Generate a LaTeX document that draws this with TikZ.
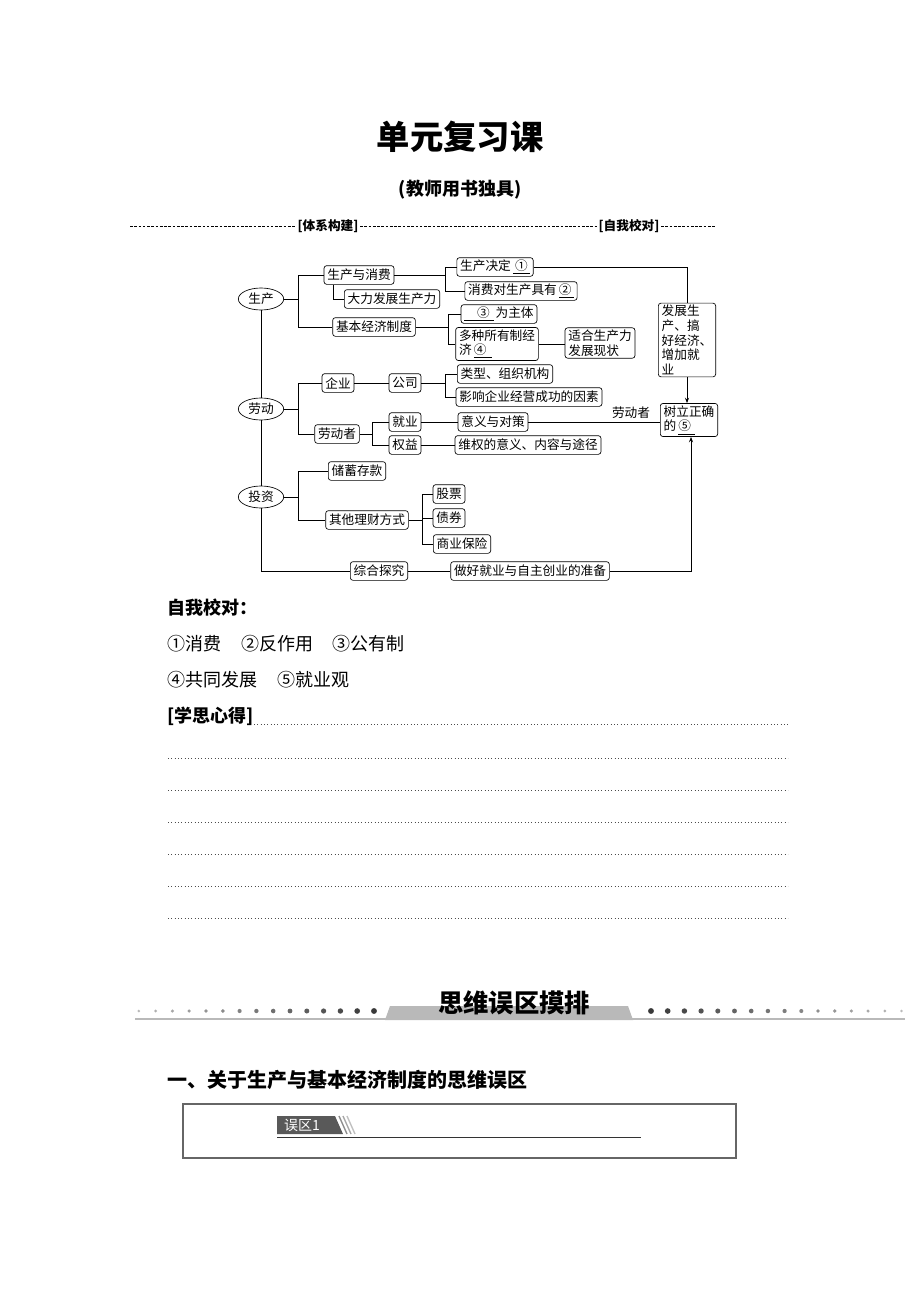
\documentclass[tikz,border=0pt]{standalone}
\usepackage{fontspec}
\setmainfont{Noto Sans CJK SC}
\usetikzlibrary{shapes.geometric,arrows.meta}

\tikzstyle{box}=[draw,rounded corners=2pt,inner xsep=2.5pt,inner ysep=1.5pt,minimum height=14pt,font=\fontsize{9.5}{11}\selectfont]
\tikzstyle{oval}=[draw,ellipse,minimum width=34pt,minimum height=16.5pt,inner sep=0pt,font=\fontsize{9.5}{11}\selectfont]
\tikzstyle{ruled}=[dotted,line width=0.5pt,black!70]
\tikzstyle{plain}=[anchor=west,inner sep=0pt,font=\fontsize{13.5}{14}\selectfont]

\begin{document}
\begin{tikzpicture}[x=0.75pt,y=-0.75pt,>={Stealth[length=4pt,width=3pt]},line width=0.5pt]
\useasboundingbox[fill=white] (0,0) rectangle (920,1302);

% HEADER

\node[font=\fontsize{25}{25}\selectfont\bfseries] (title) at (460,137) {单元复习课};
\node[font=\fontsize{13.5}{14}\selectfont\bfseries] (sub) at (460,190) {(教师用书独具)};
\node[font=\fontsize{9.5}{10}\selectfont\bfseries,inner sep=1pt] (tixi) at (328,226) {[体系构建]};
\node[font=\fontsize{9.5}{10}\selectfont\bfseries,inner sep=1pt] (zwjd) at (629,226) {[自我校对]};
\coordinate (dl0) at (130,226);
\coordinate (dl1) at (715,226);
\draw[dash pattern=on 2pt off 1.2pt,line width=0.4pt] (dl0) -- (tixi.west);
\draw[dash pattern=on 2pt off 1.2pt,line width=0.4pt] (tixi.east) -- (zwjd.west);
\draw[dash pattern=on 2pt off 1.2pt,line width=0.4pt] (zwjd.east) -- (dl1);

% SHENGCHAN

\node[oval] (sc) at (261,299) {生产};
\node[box] (scxf) at (359,275) {生产与消费};
\node[box] (dl) at (392,299) {大力发展生产力};
\node[box] (jbzd) at (374,327) {基本经济制度};
\node[box] (jd) at (495,267) {生产决定\,\underline{\,①\,}};
\node[box] (xf) at (521,291) {消费对生产具有\,\underline{②\,}};
\node[box] (wzt) at (499,314) {\underline{\hspace{1em}③\hspace{0.3em}}\,为主体};
\node[box,align=left] (dz) at (497,344) {多种所有制经\\济\,\underline{④\hspace{0.4em}}};
\node[box,align=left] (sh) at (600,343) {适合生产力\\发展现状};
\node[box,align=left] (fz) at (687,340) {发展生\\产、搞\\好经济、\\增加就\\业};

% LAODONG

\node[oval] (ld) at (261,409) {劳动};
\node[box] (qy) at (338,383) {企业};
\node[box] (gs) at (405,383) {公司};
\node[box] (lx) at (505,374) {类型、组织机构};
\node[box] (yx) at (529,397) {影响企业经营成功的因素};
\node[box] (ldz) at (337,434) {劳动者};
\node[box] (jy) at (405,422) {就业};
\node[box] (qyi) at (405,445) {权益};
\node[box] (yy) at (493,422) {意义与对策};
\node[box] (wq) at (528,445) {维权的意义、内容与途径};
\node[box,align=left] (sl) at (689,420) {树立正确\\的\,\underline{⑤\hspace{0.3em}}};

% TOUZI

\node[oval] (tz) at (261,497) {投资};
\node[box] (cx) at (357,471) {储蓄存款};
\node[box] (qtlc) at (367,520) {其他理财方式};
\node[box] (gp) at (449,494) {股票};
\node[box] (zq) at (449,518) {债券};
\node[box] (syb) at (462,544) {商业保险};
\node[box] (zh) at (379,571) {综合探究};
\node[box] (zb) at (530,571) {做好就业与自主创业的准备};

% CONNECTORS

\coordinate (c1) at (298,0);
\coordinate (c2) at (445,0);
\coordinate (c3) at (448,0);
\coordinate (c4) at (372,0);
\coordinate (c5) at (422,0);
\coordinate (c6) at (333,0);

\draw (sc.east) -- (sc -| c1) |- (scxf.west);
\draw (sc -| c1) |- (jbzd.west);
\draw (scxf.south -| c6) |- (dl.west);
\draw (scxf.east) -- (scxf -| c2) |- (jd.west);
\draw (scxf -| c2) |- (xf.west);
\draw (jbzd.east) -- (jbzd -| c3) |- (wzt.west);
\draw (jbzd -| c3) |- (dz.west);
\draw (dz.east) -- (dz.east -| sh.west);
\draw (jd.east) -| (fz.north);
\draw[->] (fz.south) -- (fz.south |- sl.north);

\draw (sc.south) -- (ld.north);
\draw (ld.south) -- (tz.north);
\draw (tz.south) |- (zh.west);

\draw (ld.east) -- (ld -| c1) |- (qy.west);
\draw (ld -| c1) |- (ldz.west);
\draw (qy) -- (gs);
\draw (gs.east) -- (gs -| c2) |- (lx.west);
\draw (gs -| c2) |- (yx.west);
\draw (ldz.east) -- (ldz -| c4) |- (jy.west);
\draw (ldz -| c4) |- (qyi.west);
\draw (jy) -- (yy);
\draw (qyi) -- (wq);
\draw (yy.east) -- (yy.east -| sl.west) node[pos=0.78,above=-1pt,font=\fontsize{9.5}{11}\selectfont] (ldzlab) {劳动者};

\draw (tz.east) -- (tz -| c1) |- (cx.west);
\draw (tz -| c1) |- (qtlc.west);
\draw (qtlc.east) -- (qtlc -| c5) |- (gp.west);
\draw (qtlc -| c5) |- (zq.west);
\draw (qtlc -| c5) |- (syb.west);
\draw (zh) -- (zb);
\draw[->] (zb.east) -| ([xshift=1.5pt]sl.south);

% ANSWERS

\node[plain,font=\fontsize{13.5}{14}\selectfont\bfseries] (zwjd2) at (167,608) {自我校对：};
\node[plain] (ans1) at (167,644) {①消费\hspace{1.1em}②反作用\hspace{1.1em}③公有制};
\node[plain] (ans2) at (167,680) {④共同发展\hspace{1.1em}⑤就业观};
\node[plain,font=\fontsize{13.5}{14}\selectfont\bfseries] (xsxd) at (167,716) {[学思心得]};
\coordinate (r0) at (788,724);
\draw[ruled] (xsxd.east |- r0) -- (r0);
\foreach \y in {758,790,822,854,886,918}
  \draw[ruled] (168,\y) -- (788,\y);

% BANNER

\draw[gray!55,line width=1.5pt] (135,1019) -- (905,1019);
\fill[gray!55] (385,1020) -- (390,1006) -- (628,1006) -- (633,1020) -- cycle;
\node[font=\fontsize{19}{19}\selectfont\bfseries] (swwq) at (514,1003) {思维误区摸排};
\foreach \i in {0,...,14}{
  \pgfmathsetmacro\shade{78-3.6*\i}
  \pgfmathsetmacro\rad{2.2-0.08*\i}
  \fill[black!\shade] (374-16.8*\i,1011) circle[radius=\rad pt];
}
\foreach \i in {0,...,15}{
  \pgfmathsetmacro\shade{78-3.4*\i}
  \pgfmathsetmacro\rad{2.2-0.075*\i}
  \fill[black!\shade] (651+16.7*\i,1011) circle[radius=\rad pt];
}

% WUQU

\node[plain,font=\fontsize{15}{15}\selectfont\bfseries] (yi) at (167,1080) {一、关于生产与基本经济制度的思维误区};
\draw[black!60,line width=0.8pt] (183,1104) rectangle (736,1158);
\fill[black!65] (277,1116) -- (335,1116) -- (343,1134) -- (277,1134) -- cycle;
\node[text=white,inner sep=0pt,font=\fontsize{10.5}{11}\selectfont] (wq1) at (302,1125) {误区1};
\foreach \s/\g in {0/45,4/35,8/25}
  \draw[black!\g,line width=1pt] (339+\s,1116) -- (347+\s,1134);
\draw[black!80,line width=0.7pt] (277,1137) -- (641,1137);

\end{tikzpicture}
\end{document}
